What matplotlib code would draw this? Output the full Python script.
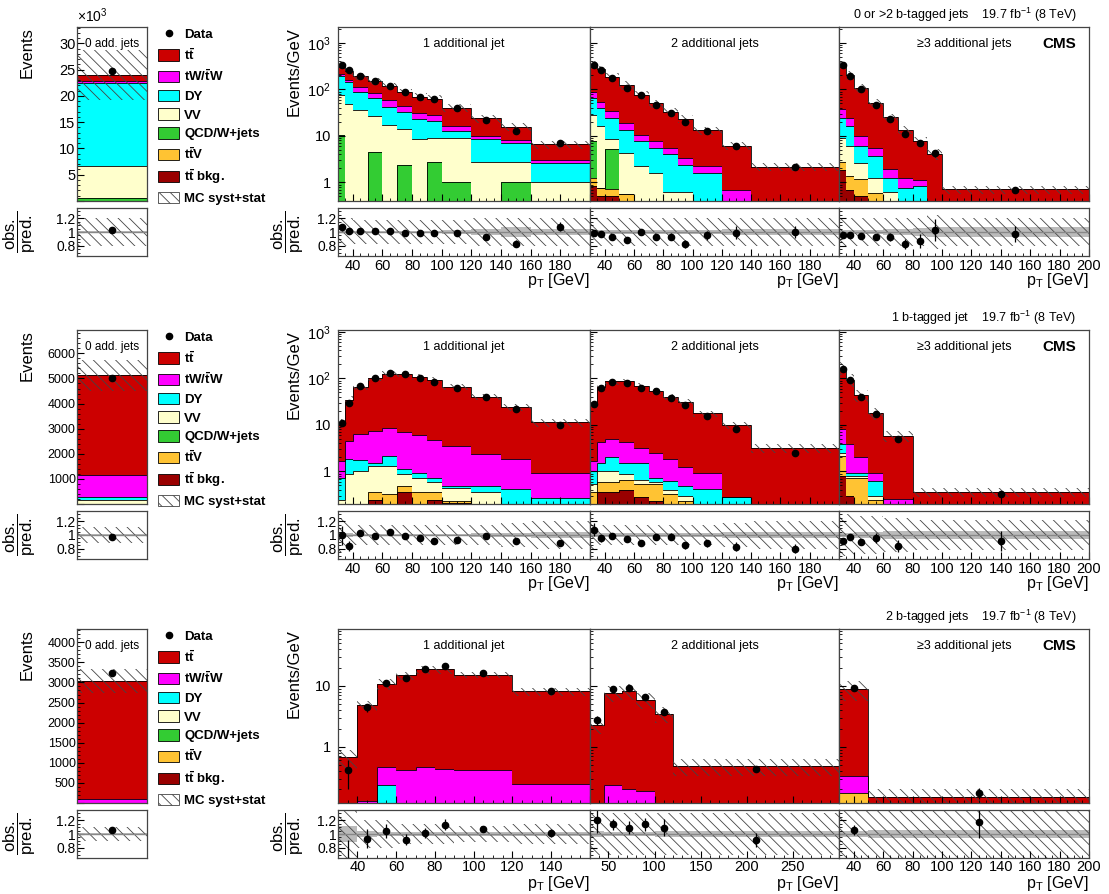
import numpy as np
import matplotlib
matplotlib.use('Agg')
import matplotlib.pyplot as plt
from matplotlib.patches import Patch
from matplotlib.lines import Line2D
from matplotlib.ticker import MultipleLocator, FixedLocator, FuncFormatter, LogLocator, NullFormatter

plt.rcParams['font.family'] = ['Liberation Sans', 'DejaVu Sans']
plt.rcParams['mathtext.fontset'] = 'custom'
plt.rcParams['mathtext.rm'] = 'Liberation Sans'
plt.rcParams['mathtext.it'] = 'Liberation Sans:italic'
plt.rcParams['mathtext.bf'] = 'Liberation Sans:bold'
plt.rcParams['hatch.linewidth'] = 0.6
plt.rcParams['xtick.direction'] = 'in'
plt.rcParams['ytick.direction'] = 'in'
plt.rcParams['xtick.major.size'] = 5
plt.rcParams['xtick.minor.size'] = 2.5
plt.rcParams['ytick.major.size'] = 5
plt.rcParams['ytick.minor.size'] = 2.5
plt.rcParams['xtick.major.pad'] = 2
plt.rcParams['axes.edgecolor'] = '#444444'
plt.rcParams['axes.linewidth'] = 0.9

# processes, bottom to top of the stack
order = ['ttbkg', 'ttv', 'qcd', 'vv', 'dy', 'tw', 'tt']
colors = {'tt': '#cc0000', 'tw': '#ff00ff', 'dy': '#00ffff', 'vv': '#ffffcc',
          'qcd': '#33cc33', 'ttv': '#ffc333', 'ttbkg': '#990000'}
leg_labels = ['Data', r'$\mathbf{t\bar{t}}$', r'$\mathbf{tW/\bar{t}W}$', 'DY', 'VV',
              'QCD/W+jets', r'$\mathbf{t\bar{t}V}$', r'$\mathbf{t\bar{t}}$ bkg.', 'MC syst+stat']

# ---------------- row 1: 0 or >2 b-tagged jets ----------------
r1_left = {'qcd': [600], 'vv': [6100], 'dy': [15700], 'tw': [400], 'tt': [1100]}
r1_left_data = [24700]
r1_left_syst = [0.2]

r1p1_edges = [30, 35, 40, 50, 60, 70, 80, 90, 100, 120, 140, 160, 200]
r1p1 = {'qcd': [10.7, 0, 0, 4.5, 0, 2.4, 0, 2.7, 1.0, 0, 1.0, 0],
        'vv': [65, 48, 37, 22, 17, 11.7, 8.7, 6.4, 8.1, 2.7, 1.7, 1.0],
        'dy': [119, 99, 49, 38.5, 24, 18, 15, 11.5, 3.5, 5.7, 4.3, 1.6],
        'tw': [15, 13, 25, 18, 19, 12.5, 7, 8, 4.1, 1.6, 1.3, 0.5],
        'tt': [103, 95, 80, 67, 57, 44, 38.7, 34.7, 23.7, 14.1, 7.4, 3.5]}
r1p1_data = [335, 260, 195, 152, 119, 87, 68, 62, 40, 22.4, 13, 7.1]
r1p1_syst = [0.2, 0.2, 0.18, 0.18, 0.18, 0.18, 0.18, 0.18, 0.18, 0.2, 0.2, 0.2]
r1p1_stat = [0.02, 0.02, 0.02, 0.02, 0.02, 0.02, 0.02, 0.02, 0.03, 0.04, 0.08, 0.04]

r1p2_edges = [30, 35, 40, 50, 60, 70, 80, 90, 100, 120, 140, 200]
r1p2 = {'ttbkg': [0.85, 0.5, 0.5, 0, 0, 0, 0, 0, 0, 0, 0],
        'ttv': [0.43, 0.25, 0.22, 0.56, 0, 0, 0, 0, 0, 0, 0],
        'qcd': [6.4, 0, 4.4, 0, 0, 0, 0, 0, 0, 0, 0],
        'vv': [20.9, 15.25, 3.3, 3.84, 2.27, 1.63, 0.63, 0.63, 0, 0, 0],
        'dy': [36.4, 24, 15.6, 8.9, 5.4, 4.0, 3.4, 1.7, 1.63, 0, 0],
        'tw': [25, 15, 10, 5.7, 3.0, 2.1, 1.6, 1.1, 0.64, 0.7, 0],
        'tt': [247, 214, 154, 105, 65, 42.8, 27.7, 20.3, 11, 5.4, 2.16]}
r1p2_data = [334, 261, 173, 110, 76, 47, 31, 19.7, 12.6, 6.05, 2.16]
r1p2_syst = [0.2, 0.2, 0.2, 0.2, 0.2, 0.2, 0.2, 0.2, 0.2, 0.2, 0.2]
r1p2_stat = [0.03, 0.03, 0.03, 0.03, 0.03, 0.03, 0.03, 0.03, 0.03, 0.04, 0.05]

r1p3_edges = [30, 35, 40, 50, 60, 70, 80, 90, 100, 200]
r1p3 = {'ttbkg': [1.9, 0.7, 0.5, 0, 0, 0, 0, 0, 0],
        'ttv': [0.9, 0.7, 0.7, 0.6, 0, 0, 0, 0, 0],
        'vv': [6.3, 4.65, 1.47, 0.62, 0.61, 0, 0, 0, 0],
        'dy': [15.2, 10.15, 3.38, 2.58, 0.63, 0.78, 0.85, 0, 0],
        'tw': [13.5, 8.1, 3.85, 1.8, 0.69, 0.5, 0.27, 0, 0],
        'tt': [314, 180, 97, 45.4, 23.4, 12.2, 6.8, 4.1, 0.71]}
r1p3_data = [334, 194, 101, 47, 23.5, 11.1, 6.9, 4.2, 0.69]
r1p3_syst = [0.2, 0.2, 0.2, 0.2, 0.2, 0.2, 0.2, 0.25, 0.2]
r1p3_stat = [0.03, 0.03, 0.03, 0.03, 0.04, 0.05, 0.06, 0.08, 0.08]

# ---------------- row 2: 1 b-tagged jet ----------------
r2_left = {'vv': [150], 'dy': [120], 'tw': [900], 'tt': [3960]}
r2_left_data = [5000]
r2_left_syst = [0.12]

r2p1_edges = [30, 35, 40, 50, 60, 70, 80, 90, 100, 120, 140, 160, 200]
r2p1 = {'ttbkg': [0, 0, 0, 0.24, 0.2, 0.36, 0, 0.24, 0.21, 0, 0, 0],
        'ttv': [0, 0, 0, 0.12, 0.13, 0.13, 0.36, 0.12, 0.02, 0, 0, 0],
        'vv': [0.24, 0.88, 1.03, 0.92, 0.95, 0.39, 0.38, 0.22, 0.22, 0.36, 0, 0],
        'dy': [0.5, 0.96, 0.72, 0.28, 0.82, 0.24, 0.21, 0.16, 0.04, 0.13, 0.42, 0.27],
        'tw': [0.9, 2.66, 4.55, 5.84, 6.3, 5.98, 5.05, 4.06, 3.06, 1.86, 1.42, 0.68],
        'tt': [9.3, 30, 60.2, 96.6, 118.6, 117.4, 102.4, 88.6, 62, 38, 22, 10.4]}
r2p1_data = [10.9, 29, 68.5, 103, 132, 122, 103, 85, 61, 40, 21.7, 10]
r2p1_syst = [0.25, 0.2, 0.15, 0.15, 0.15, 0.15, 0.15, 0.15, 0.15, 0.15, 0.17, 0.2]
r2p1_stat = [0.04, 0.03, 0.02, 0.02, 0.02, 0.02, 0.02, 0.02, 0.02, 0.03, 0.03, 0.04]

r2p2_edges = [30, 35, 40, 50, 60, 70, 80, 90, 100, 120, 140, 200]
r2p2 = {'ttbkg': [0.2, 0.36, 0.36, 0.4, 0.28, 0.23, 0, 0, 0, 0, 0],
        'ttv': [0.16, 0.22, 0.22, 0.26, 0.27, 0.32, 0.33, 0.23, 0, 0, 0],
        'vv': [0.19, 0.45, 0.45, 0.22, 0.1, 0.05, 0.07, 0.07, 0.2, 0, 0],
        'dy': [0.48, 0.53, 0.97, 0.68, 0.91, 0.14, 0.23, 0.19, 0.22, 0.28, 0],
        'tw': [0.66, 2.64, 2.9, 2.64, 1.71, 1.81, 1.21, 0.73, 0.53, 0, 0],
        'tt': [24.9, 60, 81.4, 82, 66, 52.3, 37.7, 29.9, 16.75, 9.5, 3.19]}
r2p2_data = [28.7, 61, 85, 81, 61, 53.5, 38.5, 26.4, 15.6, 8.1, 2.55]
r2p2_syst = [0.2, 0.15, 0.15, 0.15, 0.15, 0.15, 0.15, 0.15, 0.15, 0.17, 0.2]
r2p2_stat = [0.03, 0.03, 0.03, 0.03, 0.03, 0.03, 0.03, 0.03, 0.03, 0.04, 0.05]

r2p3_edges = [30, 35, 40, 50, 60, 80, 200]
r2p3 = {'ttbkg': [0.81, 0.3, 0, 0, 0, 0],
        'ttv': [1.35, 0.44, 0.74, 0.24, 0, 0],
        'vv': [0.3, 0.05, 0.05, 0.05, 0, 0],
        'dy': [1.39, 0.16, 0.16, 0.34, 0, 0],
        'tw': [4.25, 2.9, 1.11, 0.32, 0.26, 0],
        'tt': [162, 90.5, 42.3, 17.25, 5.57, 0.36]}
r2p3_data = [156, 92, 40, 17.5, 4.9, 0.33]
r2p3_syst = [0.3, 0.3, 0.28, 0.28, 0.25, 0.22]
r2p3_stat = [0.03, 0.03, 0.04, 0.05, 0.06, 0.06]

# ---------------- row 3: 2 b-tagged jets ----------------
r3_left = {'tw': [100], 'tt': [2940]}
r3_left_data = [3226]
r3_left_syst = [0.1]

r3p1_edges = [30, 40, 50, 60, 70, 80, 90, 120, 160]
r3p1 = {'dy': [0, 0, 0.24, 0, 0, 0, 0, 0],
        'tw': [0, 0.13, 0.23, 0.41, 0.47, 0.44, 0.41, 0.25],
        'tt': [0.67, 4.65, 10.2, 14.5, 18.3, 18.3, 14.7, 7.95]}
r3p1_data = [0.41, 4.45, 11.1, 13.7, 19, 21.3, 16.2, 8.3]
r3p1_syst = [0.35, 0.2, 0.2, 0.15, 0.15, 0.15, 0.12, 0.15]
r3p1_stat = [0.12, 0.04, 0.03, 0.03, 0.03, 0.03, 0.03, 0.03]

r3p2_edges = [30, 45, 65, 80, 100, 120, 300]
r3p2 = {'tw': [0, 0.24, 0.2, 0.19, 0, 0],
        'tt': [2.29, 7.48, 8.15, 5.69, 3.46, 0.48]}
r3p2_data = [2.75, 8.8, 9.1, 6.7, 3.77, 0.44]
r3p2_syst = [0.3, 0.3, 0.3, 0.3, 0.3, 0.3]
r3p2_stat = [0.05, 0.03, 0.03, 0.03, 0.04, 0.04]

r3p3_edges = [30, 50, 200]
r3p3 = {'ttv': [0.174, 0], 'tw': [0.156, 0], 'tt': [8.54, 0.149]}
r3p3_data = [9.4, 0.174]
r3p3_syst = [0.35, 0.35]
r3p3_stat = [0.04, 0.06]

row_titles = ['0 or >2 b-tagged jets', '1 b-tagged jet', '2 b-tagged jets']
panel_titles = ['1 additional jet', '2 additional jets', '\u22653 additional jets']

# ---------------- layout (pixels of the 1109x894 figure) ----------------
W, H = 1109.0, 894.0
fig = plt.figure(figsize=(11.09, 8.94), dpi=100)


def box(x0, y0, w, h):
    return [x0 / W, 1 - (y0 + h) / H, w / W, h / H]


row_top = [27, 330, 629]
main_h, gap, ratio_h = 174, 7, 48
panel_x = [(338, 252), (590, 249), (839, 250)]
left_x = (77, 70)
hatch = '\\\\\\'
hatch_col = '#444444'


def draw_stack(ax, edges, stack, floor):
    base = np.zeros(len(edges) - 1)
    for p in order:
        if p not in stack:
            continue
        top = base + np.asarray(stack[p], float)
        ax.stairs(np.maximum(top, floor), edges, baseline=np.maximum(base, floor),
                  fill=True, facecolor=colors[p], edgecolor='none', lw=0)
        ax.stairs(np.maximum(top, floor), edges, baseline=None, color='black', lw=0.6)
        base = top
    return base


def draw_ratio(axr, edges, centers, data, err, total, syst, stat):
    axr.stairs(1 + stat, edges, baseline=1 - stat, fill=True, facecolor='#bbbbbb', lw=0)
    axr.stairs(1 + syst, edges, baseline=1 - syst, fill=True, facecolor='none',
               edgecolor=hatch_col, hatch=hatch, lw=0)
    axr.axhline(1, color='#888888', lw=1.0)
    axr.errorbar(centers, data / total, yerr=err / total, fmt='o', color='black',
                 ms=4.5, elinewidth=0.9, capsize=0)
    axr.set_ylim(0.65, 1.35)
    axr.yaxis.set_major_locator(FixedLocator([0.8, 1.0, 1.2]))
    axr.yaxis.set_minor_locator(MultipleLocator(0.05))
    axr.yaxis.set_major_formatter(FuncFormatter(lambda v, pos: '%g' % v))
    axr.tick_params(axis='y', labelsize=10, pad=1)


def log_fmt(v, pos):
    if v < 5:
        return '1'
    if v < 50:
        return '10'
    return r'$10^{%d}$' % round(np.log10(v))


def make_hide_last(xmax):
    return FuncFormatter(lambda v, pos: '' if v >= xmax - 1e-6 else '%g' % v)


rows = [
    [(r1p1_edges, r1p1, r1p1_data, r1p1_syst, r1p1_stat, (30, 200), 20, 5),
     (r1p2_edges, r1p2, r1p2_data, r1p2_syst, r1p2_stat, (30, 200), 20, 5),
     (r1p3_edges, r1p3, r1p3_data, r1p3_syst, r1p3_stat, (30, 200), 20, 5)],
    [(r2p1_edges, r2p1, r2p1_data, r2p1_syst, r2p1_stat, (30, 200), 20, 5),
     (r2p2_edges, r2p2, r2p2_data, r2p2_syst, r2p2_stat, (30, 200), 20, 5),
     (r2p3_edges, r2p3, r2p3_data, r2p3_syst, r2p3_stat, (30, 200), 20, 5)],
    [(r3p1_edges, r3p1, r3p1_data, r3p1_syst, r3p1_stat, (30, 160), 20, 5),
     (r3p2_edges, r3p2, r3p2_data, r3p2_syst, r3p2_stat, (30, 300), 50, 10),
     (r3p3_edges, r3p3, r3p3_data, r3p3_syst, r3p3_stat, (30, 200), 20, 5)],
]
row_ylims = [(0.4, 2200), (0.2, 1100), (0.12, 86)]
lefts = [(r1_left, r1_left_data, r1_left_syst, 1e3, (0, 33.1), 5, 1),
         (r2_left, r2_left_data, r2_left_syst, 1.0, (0, 6930), 1000, 200),
         (r3_left, r3_left_data, r3_left_syst, 1.0, (0, 4330), 500, 100)]

for r in range(3):
    y0 = row_top[r]
    ylo, yhi = row_ylims[r]

    # ---- main panels ----
    for i, (edges, stack, data, syst, stat, xlim, xmaj, xmin) in enumerate(rows[r]):
        edges = np.asarray(edges, float)
        data = np.asarray(data, float)
        syst = np.asarray(syst, float)
        stat = np.asarray(stat, float)
        widths = np.diff(edges)
        centers = 0.5 * (edges[1:] + edges[:-1])
        err = np.sqrt(data * widths) / widths

        x0, w = panel_x[i]
        ax = fig.add_axes(box(x0, y0, w, main_h))
        axr = fig.add_axes(box(x0, y0 + main_h + gap, w, ratio_h), sharex=ax)

        ax.set_yscale('log')
        total = draw_stack(ax, edges, stack, ylo * 1e-3)
        ax.stairs(total * (1 + syst), edges, baseline=total * (1 - syst), fill=True,
                  facecolor='none', edgecolor=hatch_col, hatch=hatch, lw=0)
        ax.errorbar(centers, data, yerr=err, fmt='o', color='black', ms=4.5,
                    elinewidth=0.9, capsize=0)
        ax.set_ylim(ylo, yhi)
        ax.set_xlim(*xlim)
        ax.yaxis.set_major_locator(LogLocator(base=10, numticks=10))
        ax.yaxis.set_minor_locator(LogLocator(base=10, subs=np.arange(2, 10), numticks=10))
        ax.yaxis.set_minor_formatter(NullFormatter())
        ax.tick_params(axis='x', labelbottom=False)
        ax.tick_params(axis='y', labelsize=10.5, pad=5)
        ax.text(0.5, 0.905, panel_titles[i], transform=ax.transAxes, ha='center',
                va='center', fontsize=9)

        draw_ratio(axr, edges, centers, data, err, total, syst, stat)
        axr.xaxis.set_major_locator(MultipleLocator(xmaj))
        axr.xaxis.set_minor_locator(MultipleLocator(xmin))
        if i < 2:
            axr.xaxis.set_major_formatter(make_hide_last(xlim[1]))
        axr.tick_params(axis='x', labelsize=10.5, pad=1.5 if r == 2 else 2)
        axr.set_xlabel(r'p$_{\mathrm{T}}$ [GeV]', fontsize=11.5, loc='right',
                       labelpad=0 if r == 2 else -1)

        if i == 0:
            ax.yaxis.set_major_formatter(FuncFormatter(log_fmt))
            ax.set_ylabel('Events/GeV', fontsize=12, loc='top')
            ax.yaxis.set_label_coords(-0.143, 1.0)
            axr.set_ylabel(r'$\dfrac{\mathrm{obs.}}{\mathrm{pred.}}$', fontsize=12)
            axr.yaxis.set_label_coords(-0.125, 0.5)
        else:
            ax.tick_params(axis='y', labelleft=False)
            axr.tick_params(axis='y', labelleft=False)

        if i == 2:
            ax.text(0.95, 0.9, 'CMS', transform=ax.transAxes, ha='right', va='center',
                    fontsize=11, fontweight='bold')
            ax.text(0.95, 1.02, row_titles[r] + r'    19.7 fb$^{-1}$ (8 TeV)',
                    transform=ax.transAxes, ha='right', va='bottom', fontsize=9)

    # ---- left (0 additional jets) panel ----
    stack, data, syst, scale, ylim, ymaj, ymin = lefts[r]
    edges = np.array([0.0, 1.0])
    sstack = {k: [v / scale for v in vals] for k, vals in stack.items()}
    data = np.asarray(data, float)
    err = np.sqrt(data)
    syst = np.asarray(syst, float)
    lx, lw = left_x
    axl = fig.add_axes(box(lx, y0, lw, main_h))
    axlr = fig.add_axes(box(lx, y0 + main_h + gap, lw, ratio_h), sharex=axl)
    total = draw_stack(axl, edges, sstack, 0.0)
    axl.stairs(total * (1 + syst), edges, baseline=total * (1 - syst), fill=True,
               facecolor='none', edgecolor=hatch_col, hatch=hatch, lw=0)
    axl.errorbar([0.5], data / scale, yerr=err / scale, fmt='o', color='black', ms=4.5,
                 elinewidth=0.9, capsize=0)
    axl.set_xlim(0, 1)
    axl.set_ylim(*ylim)
    axl.yaxis.set_major_locator(MultipleLocator(ymaj))
    axl.yaxis.set_minor_locator(MultipleLocator(ymin))
    axl.yaxis.set_major_formatter(FuncFormatter(lambda v, pos: '%d' % v if v > 0 else ''))
    axl.tick_params(axis='y', labelsize=10.5 if r == 0 else 9, pad=1)
    axl.tick_params(axis='x', bottom=False, labelbottom=False)
    axl.set_ylabel('Events', fontsize=12, loc='top')
    axl.yaxis.set_label_coords(-0.6, 1.0)
    axl.text(0.5, 0.905, '0 add. jets', transform=axl.transAxes, ha='center', va='center',
             fontsize=8.5)
    if r == 0:
        axl.text(0.0, 1.01, r'$\times10^{3}$', transform=axl.transAxes, ha='left',
                 va='bottom', fontsize=10)
    draw_ratio(axlr, edges, np.array([0.5]), data, err, total * scale, syst,
               np.array([0.01]))
    axlr.tick_params(axis='x', bottom=False, labelbottom=False)
    axlr.set_ylabel(r'$\dfrac{\mathrm{obs.}}{\mathrm{pred.}}$', fontsize=12)
    axlr.yaxis.set_label_coords(-0.56, 0.5)

    # ---- legend ----
    handles = [Line2D([], [], marker='o', ls='none', color='black', ms=4.5)]
    for p in ['tt', 'tw', 'dy', 'vv', 'qcd', 'ttv', 'ttbkg']:
        handles.append(Patch(facecolor=colors[p], edgecolor='black', lw=0.6))
    handles.append(Patch(facecolor='white', edgecolor=hatch_col, hatch=hatch, lw=0.6))
    fig.legend(handles, leg_labels, loc='upper left',
               bbox_to_anchor=(158 / W, 1 - (y0 + 1) / H), frameon=False,
               prop={'weight': 'bold', 'size': 9.5}, handlelength=1.6, handleheight=0.95,
               labelspacing=0.42, handletextpad=0.4, borderpad=0, borderaxespad=0)

fig.savefig('out.png', dpi=100)
